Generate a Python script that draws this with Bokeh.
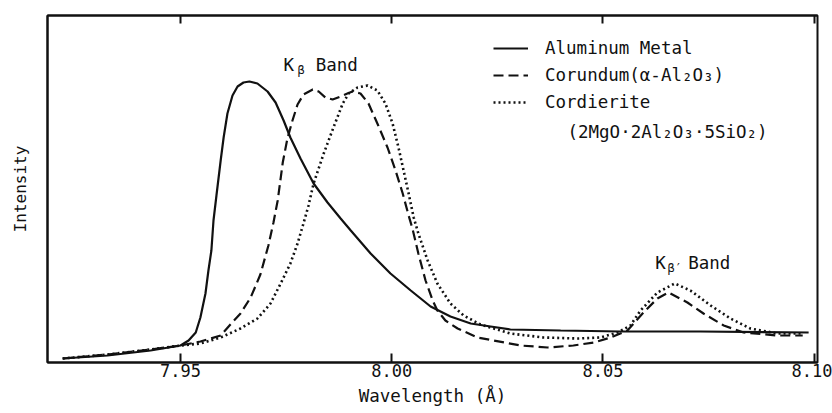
from bokeh.plotting import figure
from bokeh.models import (Range1d, FixedTicker, LinearAxis, Legend, LegendItem, Label)
from bokeh.embed import file_html
from bokeh.resources import INLINE

# Wavelength (Å) and relative intensity for each sample
wl_metal = [7.9221, 7.9327, 7.9429, 7.9500, 7.9519, 7.9536, 7.9547, 7.9559, 7.9566, 7.9573,
            7.9578, 7.9585, 7.9595, 7.9602, 7.9611, 7.9623, 7.9635, 7.9649, 7.9663, 7.9682,
            7.9706, 7.9725, 7.9744, 7.9760, 7.9784, 7.9815, 7.9848, 7.9879, 7.9903, 7.9950,
            7.9997, 8.0045, 8.0092, 8.0139, 8.0187, 8.0234, 8.0281, 8.0400, 8.0542, 8.0731,
            8.0987]
int_metal = [4, 7, 12, 17, 22, 30, 45, 69, 92, 112,
             142, 167, 202, 225, 249, 267, 276, 280, 281, 279,
             271, 260, 242, 225, 204, 179, 160, 144, 132, 109,
             89, 72, 56, 46, 39, 36, 33, 32, 31, 31,
             30]

wl_corundum = [7.9221, 7.9327, 7.9429, 7.9500, 7.9547, 7.9595, 7.9618, 7.9642, 7.9666, 7.9689,
               7.9708, 7.9720, 7.9730, 7.9742, 7.9753, 7.9765, 7.9777, 7.9791, 7.9813, 7.9827,
               7.9843, 7.9860, 7.9879, 7.9895, 7.9907, 7.9926, 7.9945, 7.9966, 7.9990, 8.0009,
               8.0026, 8.0040, 8.0049, 8.0063, 8.0080, 8.0097, 8.0108, 8.0127, 8.0156, 8.0203,
               8.0241, 8.0305, 8.0369, 8.0430, 8.0478, 8.0518, 8.0558, 8.0596, 8.0629, 8.0655,
               8.0700, 8.0738, 8.0786, 8.0833, 8.0913, 8.0973]
int_corundum = [4, 8, 13, 17, 21, 27, 38, 49, 65, 88,
                117, 140, 162, 200, 224, 242, 258, 268, 273, 271,
                265, 263, 266, 269, 271, 269, 259, 239, 215, 192,
                169, 147, 134, 109, 82, 62, 52, 42, 34, 25,
                22, 17, 15, 17, 20, 25, 32, 50, 64, 70,
                60, 49, 37, 30, 27, 27]

wl_cordierite = [7.9221, 7.9327, 7.9429, 7.9500, 7.9547, 7.9595, 7.9642, 7.9682, 7.9713, 7.9737,
                 7.9760, 7.9777, 7.9791, 7.9803, 7.9815, 7.9839, 7.9862, 7.9884, 7.9898, 7.9919,
                 7.9943, 7.9966, 7.9985, 8.0002, 8.0016, 8.0028, 8.0040, 8.0052, 8.0063, 8.0085,
                 8.0108, 8.0139, 8.0170, 8.0210, 8.0281, 8.0359, 8.0440, 8.0494, 8.0535, 8.0565,
                 8.0589, 8.0629, 8.0670, 8.0707, 8.0755, 8.0802, 8.0849, 8.0913, 8.0975]
int_cordierite = [4, 8, 13, 17, 19, 25, 34, 44, 59, 79,
                  99, 119, 139, 157, 179, 209, 235, 259, 269, 275,
                  277, 272, 259, 239, 215, 192, 169, 145, 129, 102,
                  79, 59, 47, 38, 29, 25, 24, 25, 30, 37,
                  52, 70, 79, 72, 57, 44, 34, 29, 29]

x_ticks = [7.95, 8.00, 8.05, 8.10]
x_tick_labels = ["7.95", "8.00", "8.05", "8.10"]

FONT = "DejaVu Sans Mono"
INK = "#111111"

p = figure(width=832, height=413, output_backend="svg", toolbar_location=None,
           x_range=Range1d(7.9185, 8.1008), y_range=Range1d(0, 347),
           min_border_left=47, min_border_right=15, min_border_top=15, min_border_bottom=51)
p.background_fill_color = "white"
p.border_fill_color = "white"
p.outline_line_color = INK
p.outline_line_width = 2
p.xgrid.visible = False
p.ygrid.visible = False

# bottom axis: inward ticks, fixed decimal labels
xa = p.xaxis[0]
xa.ticker = FixedTicker(ticks=x_ticks)
xa.major_label_overrides = {t: s for t, s in zip(x_ticks, x_tick_labels)}
xa.minor_tick_line_color = None
xa.major_tick_in = 9
xa.major_tick_out = 0
xa.major_tick_line_width = 2
xa.major_tick_line_color = INK
xa.axis_line_width = 2
xa.axis_line_color = INK
xa.major_label_standoff = 1
xa.major_label_text_font = FONT
xa.major_label_text_font_size = "17px"
xa.major_label_text_color = INK
xa.axis_label = "Wavelength (Å)"
xa.axis_label_standoff = 6
xa.axis_label_text_font = FONT
xa.axis_label_text_font_size = "17.5px"
xa.axis_label_text_font_style = "normal"
xa.axis_label_text_color = INK

# left axis: label only
ya = p.yaxis[0]
ya.ticker = FixedTicker(ticks=[])
ya.minor_tick_line_color = None
ya.major_tick_line_color = None
ya.major_label_text_color = None
ya.axis_line_width = 2
ya.axis_line_color = INK
ya.axis_label = "Intensity"
ya.axis_label_standoff = 18
ya.axis_label_text_font = FONT
ya.axis_label_text_font_size = "16px"
ya.axis_label_text_font_style = "normal"
ya.axis_label_text_color = INK

# top axis: inward ticks, labels not drawn
top = LinearAxis(ticker=FixedTicker(ticks=x_ticks), major_tick_in=8, major_tick_out=0,
                 major_tick_line_width=2, major_tick_line_color=INK,
                 minor_tick_line_color=None, axis_line_width=2, axis_line_color=INK,
                 major_label_text_font_size="1px", major_label_text_color=None,
                 major_label_standoff=0)
p.add_layout(top, "above")

r_metal = p.line(wl_metal, int_metal, line_color=INK, line_width=2.2)
r_cor = p.line(wl_corundum, int_corundum, line_color=INK, line_width=2.2, line_dash="10 5")
r_cord = p.line(wl_cordierite, int_cordierite, line_color=INK, line_width=2.6, line_dash="2 3")

legend = Legend(items=[LegendItem(label="Aluminum Metal", renderers=[r_metal]),
                       LegendItem(label="Corundum(α-Al₂O₃)", renderers=[r_cor]),
                       LegendItem(label="Cordierite", renderers=[r_cord])],
                location=(446, 250), border_line_color=None, background_fill_alpha=0,
                padding=0, margin=0, spacing=7, glyph_width=35, glyph_height=20,
                label_height=20, label_standoff=17, label_text_font=FONT,
                label_text_font_size="17.5px", label_text_color=INK)
p.add_layout(legend)

p.add_layout(Label(x=8.0416, y=231, text="(2MgO·2Al₂O₃·5SiO₂)", text_font=FONT,
                   text_font_size="17.5px", text_color=INK, text_baseline="alphabetic"))

# band annotations
for x, y, t, size in [(7.9744, 298, "K", "17.5px"), (7.9777, 293, "β", "12px"),
                      (7.9820, 298, "Band", "17.5px"),
                      (8.0624, 100, "K", "17.5px"), (8.0653, 95, "β′", "12px"),
                      (8.0702, 100, "Band", "17.5px")]:
    p.add_layout(Label(x=x, y=y, text=t, text_font=FONT, text_font_size=size,
                       text_color=INK, text_baseline="alphabetic"))

open("out.html", "w").write(file_html(p, INLINE))
